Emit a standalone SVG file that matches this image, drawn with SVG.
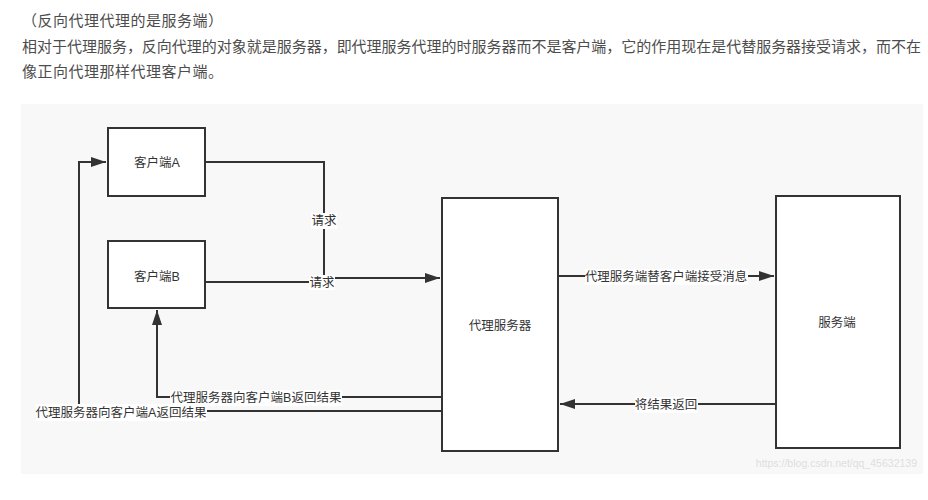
<svg xmlns="http://www.w3.org/2000/svg" width="928" height="500" viewBox="0 0 928 500">
<style>
.hdr{font-family:"Noto Sans CJK SC","Liberation Sans",sans-serif;font-size:15px;fill:#4d4d4d}
.box{fill:#ffffff;stroke:#333333;stroke-width:2}
.nt{font-family:"Liberation Sans","Noto Sans CJK SC",sans-serif;font-size:12.5px;fill:#333333;text-anchor:middle;dominant-baseline:central}
.lbl{font-family:"Liberation Sans","Noto Sans CJK SC",sans-serif;font-size:12.5px;fill:#333333;text-anchor:middle;dominant-baseline:central}
.lb{fill:#ffffff}
.edge{fill:none;stroke:#333333;stroke-width:2}
</style>
<defs>
<marker id="arr" markerUnits="userSpaceOnUse" markerWidth="16" markerHeight="12" refX="15" refY="5" orient="auto">
<path d="M0,0 L15,5 L0,10 z" fill="#333333"/>
</marker>
</defs>
<rect x="0" y="0" width="928" height="500" fill="#ffffff"/>
<text class="hdr" x="22" y="26" textLength="201" lengthAdjust="spacing">（反向代理代理的是服务端）</text>
<text class="hdr" x="22" y="52" textLength="899" lengthAdjust="spacing">相对于代理服务，反向代理的对象就是服务器，即代理服务代理的时服务器而不是客户端，它的作用现在是代替服务器接受请求，而不在</text>
<text class="hdr" x="22" y="77" textLength="201" lengthAdjust="spacing">像正向代理那样代理客户端。</text>
<rect x="21" y="104" width="902" height="370" fill="#f8f8f8"/>
<g id="connectors">
<path class="edge" d="M205,162 H324 V278 H440" marker-end="url(#arr)"/>
<path class="edge" d="M205,282 H326 V279"/>
<path class="edge" d="M442,397 H157 V310" marker-end="url(#arr)"/>
<path class="edge" d="M442,411 H79 V162 H106" marker-end="url(#arr)"/>
<path class="edge" d="M558,276 H774" marker-end="url(#arr)"/>
<path class="edge" d="M776,404 H560" marker-end="url(#arr)"/>
<rect class="lb" x="311" y="213" width="26" height="16"/>
<text class="lbl" x="324" y="221">请求</text>
<rect class="lb" x="309" y="275" width="26" height="15"/>
<text class="lbl" x="322" y="283">请求</text>
<rect class="lb" x="170" y="390" width="172" height="16"/>
<text class="lbl" x="256" y="398">代理服务器向客户端B返回结果</text>
<rect class="lb" x="36" y="404" width="171" height="17"/>
<text class="lbl" x="121" y="413">代理服务器向客户端A返回结果</text>
<rect class="lb" x="585" y="269" width="163" height="16"/>
<text class="lbl" x="666" y="277">代理服务端替客户端接受消息</text>
<rect class="lb" x="635" y="397" width="63" height="16"/>
<text class="lbl" x="666" y="405">将结果返回</text>
</g>
<g id="clientA">
<rect class="box" x="108" y="128" width="97" height="68"/>
<text class="nt" x="157" y="163">客户端A</text>
</g>
<g id="clientB">
<rect class="box" x="108" y="241" width="97" height="67"/>
<text class="nt" x="157" y="277">客户端B</text>
</g>
<g id="proxy">
<rect class="box" x="442" y="198" width="116" height="253"/>
<text class="nt" x="500" y="326">代理服务器</text>
</g>
<g id="server">
<rect class="box" x="776" y="196" width="124" height="252"/>
<text class="nt" x="837" y="323">服务端</text>
</g>
<text x="917" y="467" text-anchor="end" font-family="Liberation Sans, sans-serif" font-size="10.5" fill="#dedede">https://blog.csdn.net/qq_45632139</text>
</svg>
